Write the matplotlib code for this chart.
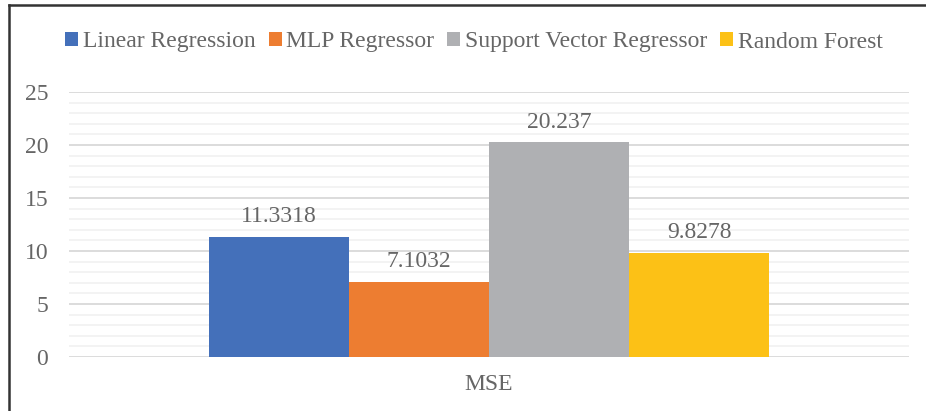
import matplotlib.pyplot as plt
from matplotlib.lines import Line2D
import numpy as np

# Data
modelos = ['Linear Regression', 'MLP Regressor', 'Support Vector Regressor', 'Random Forest']
mse = [11.3318, 7.1032, 20.237, 9.8278]
rotulos = ['11.3318', '7.1032', '20.237', '9.8278']
cores = ['#4470BA', '#ED7D31', '#AFB0B3', '#FCC116']
categoria = 'MSE'

fonte = 'Liberation Serif'
texto = '#666666'

fig = plt.figure(figsize=(9.26, 4.11), dpi=100)
ax = fig.add_axes([69 / 926, 1 - 357 / 411, 840 / 926, 265 / 411])

width = 0.2
x = np.arange(len(modelos)) * width - 1.5 * width
for xi, v, c, m, r in zip(x, mse, cores, modelos, rotulos):
    ax.bar(xi, v, width, color=c, label=m, zorder=3)
    ax.annotate(r, (xi, v), xytext=(0, 7), textcoords='offset points',
                ha='center', va='bottom', fontsize=17, color=texto, family=fonte)

ax.set_xlim(-3 * width, 3 * width)
ax.set_ylim(0, 25)
ax.set_yticks(np.arange(0, 26, 1), minor=True)
ax.grid(True, which='major', axis='y', color='#D9D9D9', linewidth=1.3, zorder=0)
ax.grid(True, which='minor', axis='y', color='#F2F2F2', linewidth=1.3, zorder=0)
ax.set_xticks([0])
ax.set_xticklabels([categoria], family=fonte)
ax.set_yticks(np.arange(0, 26, 5))
ax.set_yticklabels([str(v) for v in range(0, 26, 5)], family=fonte)
ax.tick_params(axis='both', which='both', length=0, labelsize=17, labelcolor=texto)
ax.tick_params(axis='y', pad=15)
ax.tick_params(axis='x', pad=12)
for s in ax.spines.values():
    s.set_visible(False)

ax.legend(loc='center', bbox_to_anchor=(474 / 926, 1 - 42 / 411), bbox_transform=fig.transFigure,
          ncol=4, frameon=False, prop={'family': fonte, 'size': 17}, labelcolor=texto,
          handlelength=0.55, handleheight=0.55, handletextpad=0.2, columnspacing=0.55)

# moldura
fig.add_artist(Line2D([9 / 926, 9 / 926], [0, 1 - 5 / 411], color='#333333', linewidth=1.8))
fig.add_artist(Line2D([9 / 926, 1], [1 - 5 / 411, 1 - 5 / 411], color='#333333', linewidth=1.8))

plt.savefig('out.png', dpi=100)
plt.close(fig)
